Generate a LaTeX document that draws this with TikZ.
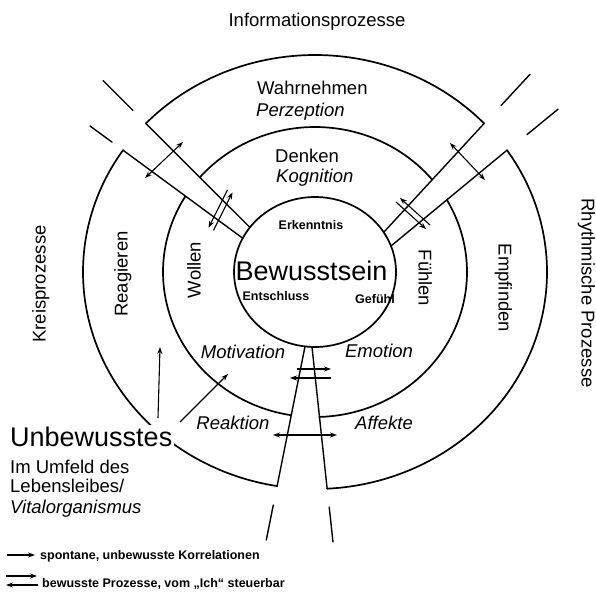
\documentclass[tikz,border=0pt]{standalone}
\usepackage{fontspec}
\setmainfont{Liberation Sans}
\usetikzlibrary{arrows.meta}
\begin{document}
\begin{tikzpicture}[x=1pt,y=-1pt,
  ring/.style={line width=1.7pt,line join=round,line cap=round},
  chan/.style={line width=1.4pt,line cap=round},
  tk/.style={line width=1.4pt,line cap=round},
  tip/.tip={Stealth[length=7pt,width=5pt]},
  spont/.style={line width=1.1pt,-tip},
  both/.style={line width=1.1pt,tip-tip},
  bew/.style={line width=1.1pt,-tip},
  lab/.style={font=\fontsize{18.5}{21}\selectfont,inner sep=0pt},
  labi/.style={font=\fontsize{18.5}{21}\selectfont\itshape,inner sep=0pt},
  sm/.style={font=\fontsize{12.5}{14}\selectfont\bfseries,inner sep=0pt},
  big/.style={font=\fontsize{27}{30}\selectfont,inner sep=0pt},
]
\useasboundingbox (0,0) rectangle (596,596);
\fill[white] (0,0) rectangle (596,596);

% --- points where channels meet the rings
\coordinate (Aout) at ({315+232*cos(223.2)},{272+217*sin(223.2)});
\coordinate (Cout) at ({315+232*cos(316.8)},{272+217*sin(316.8)});
\coordinate (Bout) at ({315+232*cos(214.15)},{272+217*sin(214.15)});
\coordinate (Dout) at ({315+232*cos(-34.15)},{272+217*sin(-34.15)});
\coordinate (Eout) at ({315+232*cos(99.4)},{272+217*sin(99.4)});
\coordinate (Fout) at ({315+232*cos(87)},{272+217*sin(87)});
\coordinate (Ain) at (250,227.5);
\coordinate (Bin) at (242.7,238.2);
\coordinate (Cin) at (383.7,232.3);
\coordinate (Din) at (391,246);
\coordinate (Ein) at (305,346.4);
\coordinate (Fin) at (312,346.9);

% --- outer ring
\draw[ring] plot[domain=223.2:316.8,samples=80,smooth] ({315+232*cos(\x)},{272+217*sin(\x)});
\draw[ring] plot[domain=99.4:214.15,samples=80,smooth] ({315+232*cos(\x)},{272+217*sin(\x)});
\draw[ring] plot[domain=-34.15:87,samples=80,smooth] ({315+232*cos(\x)},{272+217*sin(\x)});
% --- middle ring
\draw[ring] plot[domain=220.8:320.5,samples=80,smooth] ({315+152*cos(\x)},{272+145*sin(\x)});
\draw[ring] plot[domain=99:211.5,samples=80,smooth] ({315+152*cos(\x)},{272+145*sin(\x)});
\draw[ring] plot[domain=-29.7:88.4,samples=80,smooth] ({315+152*cos(\x)},{272+145*sin(\x)});
% --- inner circle
\draw[ring] plot[domain=0:360,samples=120,smooth cycle] ({315+81*cos(\x)},{272+75*sin(\x)});

% --- channels
\draw[chan] (Ain) -- (Aout);
\draw[chan] (Bin) -- (Bout);
\draw[chan] (Cin) -- (Cout);
\draw[chan] (Din) -- (Dout);
\draw[chan] (Ein) -- (Eout);
\draw[chan] (Fin) -- (Fout);

% --- outside ticks
\coordinate (ta1) at (133,110.5); \coordinate (ta2) at (103,80.5);
\coordinate (tb1) at (112,142.1); \coordinate (tb2) at (90,126);
\coordinate (tc1) at (501,105.6); \coordinate (tc2) at (530,74.3);
\coordinate (td1) at (527,134.6); \coordinate (td2) at (558,109.2);
\coordinate (te1) at (273.3,505); \coordinate (te2) at (266.3,540);
\coordinate (tf1) at (329.2,507); \coordinate (tf2) at (333,542);
\draw[tk] (ta1) -- (ta2);
\draw[tk] (tb1) -- (tb2);
\draw[tk] (tc1) -- (tc2);
\draw[tk] (td1) -- (td2);
\draw[tk] (te1) -- (te2);
\draw[tk] (tf1) -- (tf2);

% --- arrows across channels
\coordinate (ul1) at (145,178); \coordinate (ul2) at (183,142);
\draw[both] (ul1) -- (ul2);
\coordinate (ur1) at (450,143); \coordinate (ur2) at (485,180);
\draw[both] (ur1) -- (ur2);
\coordinate (bt1) at (273,435); \coordinate (bt2) at (337,435);
\draw[both] (bt1) -- (bt2);

\coordinate (uw1) at (213.5,230.3); \coordinate (uw2) at (232.5,192.3);
\coordinate (uw3) at (227.5,189.8); \coordinate (uw4) at (208.5,227.8);
\draw[bew] (uw1) -- (uw2);
\draw[bew] (uw3) -- (uw4);
\coordinate (uf1) at (396.1,202.1); \coordinate (uf2) at (426.1,229.1);
\coordinate (uf3) at (429.9,224.9); \coordinate (uf4) at (399.9,197.9);
\draw[bew] (uf1) -- (uf2);
\draw[bew] (uf3) -- (uf4);
\coordinate (bm1) at (297,369); \coordinate (bm2) at (331,369);
\coordinate (bm3) at (331,378); \coordinate (bm4) at (290,378);
\draw[bew] (bm1) -- (bm2);
\draw[bew] (bm3) -- (bm4);

% --- spontaneous arrows from the unconscious
\coordinate (un1) at (158,418); \coordinate (un2) at (160,347);
\draw[spont] (un1) -- (un2);
\coordinate (un3) at (180,422); \coordinate (un4) at (228,374);
\draw[spont] (un3) -- (un4);

% --- labels
\node[lab,anchor=base] (info) at (317,26.5) {Informationsprozesse};
\node[lab,anchor=base west] (wahr) at (257,94.5) {Wahrnehmen};
\node[labi,anchor=base west] (perz) at (256,116.5) {Perzeption};
\node[lab,anchor=base west] (denk) at (275,162.5) {Denken};
\node[labi,anchor=base west] (kogn) at (276,182.5) {Kognition};
\node[sm,anchor=base] (erk) at (311,229) {Erkenntnis};
\node[big,anchor=base] (bew) at (311.5,280) {Bewusstsein};
\node[sm,anchor=base] (ent) at (276,300.5) {Entschluss};
\node[sm,anchor=base] (gef) at (375,303) {Gefühl};
\node[labi,anchor=base] (mot) at (243,358.5) {Motivation};
\node[labi,anchor=base] (emo) at (379,357.5) {Emotion};
\node[labi,anchor=base] (rea) at (233,429.5) {Reaktion};
\node[labi,anchor=base] (aff) at (384,429.5) {Affekte};

\node[lab,anchor=base,rotate=90] (kreis) at (45.5,284) {Kreisprozesse};
\node[lab,anchor=base,rotate=90] (reag) at (127.5,274) {Reagieren};
\node[lab,anchor=base,rotate=90] (woll) at (200.5,270) {Wollen};
\node[lab,anchor=base,rotate=-90] (fuehl) at (418.5,278) {Fühlen};
\node[lab,anchor=base,rotate=-90] (empf) at (498.5,288) {Empfinden};
\node[lab,anchor=base,rotate=-90] (rhyth) at (581.5,293) {Rhythmische Prozesse};

\node[big,anchor=base west,fill=white,inner sep=1.5pt] (unb) at (8.5,446) {Unbewusstes};
\node[lab,anchor=base west] (umf) at (10,473.5) {Im Umfeld des};
\node[lab,anchor=base west] (leb) at (10,492.5) {Lebensleibes/};
\node[labi,anchor=base west] (vit) at (10,513.5) {Vitalorganismus};

% --- legend
\coordinate (lg1) at (7,555); \coordinate (lg2) at (35,555);
\draw[spont] (lg1) -- (lg2);
\node[sm,anchor=base west] (leg1) at (40,559) {spontane, unbewusste Korrelationen};
\coordinate (lg3) at (6,576); \coordinate (lg4) at (37,576);
\coordinate (lg5) at (38,585); \coordinate (lg6) at (6,585);
\draw[bew] (lg3) -- (lg4);
\draw[bew] (lg5) -- (lg6);
\node[sm,anchor=base west] (leg2) at (42,587) {bewusste Prozesse, vom „Ich“ steuerbar};
\end{tikzpicture}
\end{document}
